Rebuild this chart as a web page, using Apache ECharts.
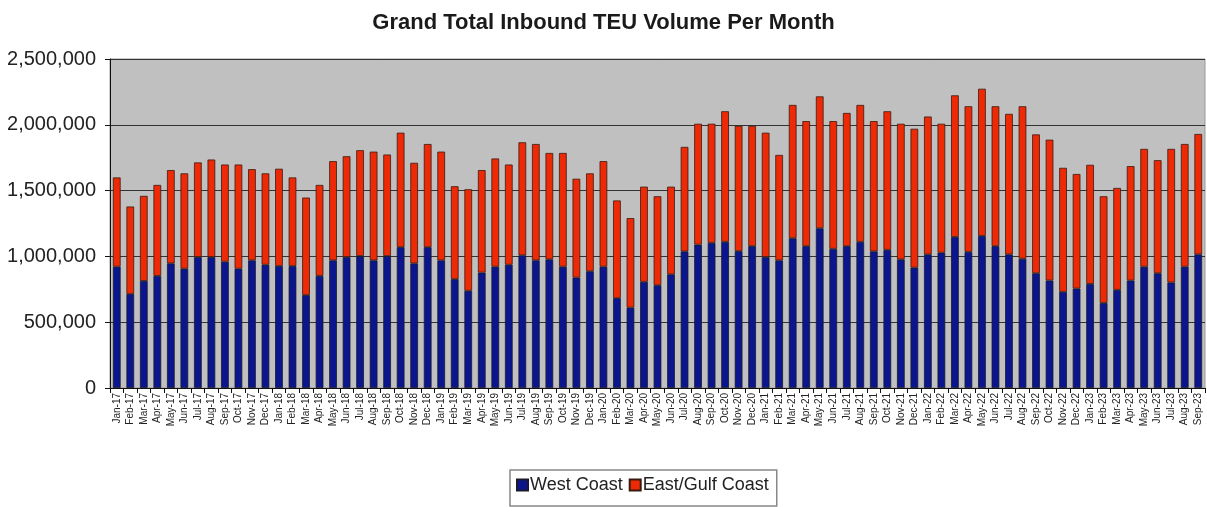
<!DOCTYPE html>
<html>
<head>
<meta charset="utf-8">
<script src="https://cdn.jsdelivr.net/npm/echarts@6/dist/echarts.min.js"></script>
<style>
  html, body { margin: 0; padding: 0; background: #fff; }
  #main { width: 1207px; height: 507px; }
</style>
</head>
<body>
<div id="main"></div>
<script>
// months Jan-17 .. Sep-23
var months = [
  'Jan-17','Feb-17','Mar-17','Apr-17','May-17','Jun-17','Jul-17','Aug-17','Sep-17','Oct-17','Nov-17','Dec-17',
  'Jan-18','Feb-18','Mar-18','Apr-18','May-18','Jun-18','Jul-18','Aug-18','Sep-18','Oct-18','Nov-18','Dec-18',
  'Jan-19','Feb-19','Mar-19','Apr-19','May-19','Jun-19','Jul-19','Aug-19','Sep-19','Oct-19','Nov-19','Dec-19',
  'Jan-20','Feb-20','Mar-20','Apr-20','May-20','Jun-20','Jul-20','Aug-20','Sep-20','Oct-20','Nov-20','Dec-20',
  'Jan-21','Feb-21','Mar-21','Apr-21','May-21','Jun-21','Jul-21','Aug-21','Sep-21','Oct-21','Nov-21','Dec-21',
  'Jan-22','Feb-22','Mar-22','Apr-22','May-22','Jun-22','Jul-22','Aug-22','Sep-22','Oct-22','Nov-22','Dec-22',
  'Jan-23','Feb-23','Mar-23','Apr-23','May-23','Jun-23','Jul-23','Aug-23','Sep-23'
];

// West Coast TEU
var westCoast = [
  922000, 714000, 814000, 852000, 947000, 907000, 995000, 995000, 960000, 907000, 970000, 937000,
  927000, 927000, 706000, 852000, 970000, 995000, 1003000, 970000, 1003000, 1070000, 947000, 1070000,
  970000, 827000, 739000, 877000, 922000, 937000, 1008000, 970000, 977000, 922000, 839000, 887000,
  922000, 683000, 611000, 807000, 781000, 864000, 1038000, 1090000, 1103000, 1111000, 1040000, 1078000,
  995000, 970000, 1138000, 1078000, 1214000, 1058000, 1078000, 1111000, 1038000, 1050000, 977000, 915000,
  1015000, 1028000, 1148000, 1035000, 1156000, 1078000, 1015000, 982000, 872000, 817000, 731000, 756000,
  791000, 646000, 746000, 817000, 922000, 872000, 802000, 922000, 1015000
];

// grand total (West + East/Gulf)
var grandTotal = [
  1600000, 1379000, 1460000, 1543000, 1656000, 1631000, 1714000, 1736000, 1698000, 1698000, 1663000, 1631000,
  1666000, 1600000, 1447000, 1543000, 1724000, 1761000, 1807000, 1796000, 1774000, 1940000, 1711000, 1854000,
  1796000, 1533000, 1510000, 1656000, 1744000, 1698000, 1867000, 1854000, 1786000, 1786000, 1590000, 1631000,
  1724000, 1425000, 1291000, 1530000, 1457000, 1530000, 1832000, 2008000, 2008000, 2103000, 1992000, 1992000,
  1940000, 1771000, 2151000, 2028000, 2216000, 2028000, 2090000, 2151000, 2028000, 2103000, 2008000, 1970000,
  2063000, 2008000, 2224000, 2141000, 2274000, 2141000, 2083000, 2141000, 1927000, 1887000, 1673000, 1626000,
  1696000, 1457000, 1520000, 1686000, 1817000, 1731000, 1817000, 1854000, 1930000
];

var eastGulfCoast = grandTotal.map(function (t, i) { return t - westCoast[i]; });

var yTicks = [0, 500000, 1000000, 1500000, 2000000, 2500000];

var myChart = echarts.init(document.getElementById('main'));
myChart.setOption({
  animation: false,
  textStyle: { fontFamily: 'Liberation Sans, Arial, sans-serif' },
  title: {
    text: 'Grand Total Inbound TEU Volume Per Month',
    left: 'center',
    top: 7,
    textStyle: { fontSize: 22, fontWeight: 'bold', color: '#1a1a1a', fontFamily: 'Liberation Sans, Arial, sans-serif' }
  },
  legend: {
    data: ['West Coast', 'East/Gulf Coast'],
    left: 510,
    top: 470,
    icon: 'rect',
    itemWidth: 11,
    itemHeight: 11,
    itemGap: 6,
    padding: [6, 8, 12, 6],
    borderColor: '#888',
    borderWidth: 1.5,
    textStyle: { fontSize: 18, color: '#222', padding: [0, 0, 0, -3] }
  },
  grid: {
    show: true,
    left: 110,
    right: 2,
    top: 59,
    bottom: 119,
    backgroundColor: '#C0C0C0',
    borderColor: '#999',
    borderWidth: 1
  },
  xAxis: {
    type: 'category',
    data: months,
    axisLine: { lineStyle: { color: '#111', width: 1 } },
    axisTick: { show: true, length: 5, lineStyle: { color: '#111' } },
    axisLabel: { interval: 0, rotate: 90, fontSize: 10, color: '#222', margin: 5 }
  },
  yAxis: {
    type: 'value',
    min: 0,
    max: yTicks[yTicks.length - 1],
    interval: yTicks[1] - yTicks[0],
    axisLine: { show: true, lineStyle: { color: '#111', width: 1 } },
    axisTick: { show: true, length: 5, lineStyle: { color: '#111' } },
    axisLabel: {
      fontSize: 20,
      color: '#222',
      margin: 14,
      formatter: function (v) { return v.toLocaleString('en-US'); }
    },
    splitLine: { show: true, lineStyle: { color: '#333', width: 1.2 } }
  },
  series: [
    {
      name: 'West Coast',
      type: 'bar',
      stack: 'total',
      barWidth: '57%',
      data: westCoast,
      itemStyle: { color: '#0B168E', borderColor: '#1a1a2a', borderWidth: 0.8 }
    },
    {
      name: 'East/Gulf Coast',
      type: 'bar',
      stack: 'total',
      barWidth: '57%',
      data: eastGulfCoast,
      itemStyle: { color: '#EE2A06', borderColor: '#3a1a10', borderWidth: 0.8 }
    }
  ]
});
</script>
</body>
</html>
